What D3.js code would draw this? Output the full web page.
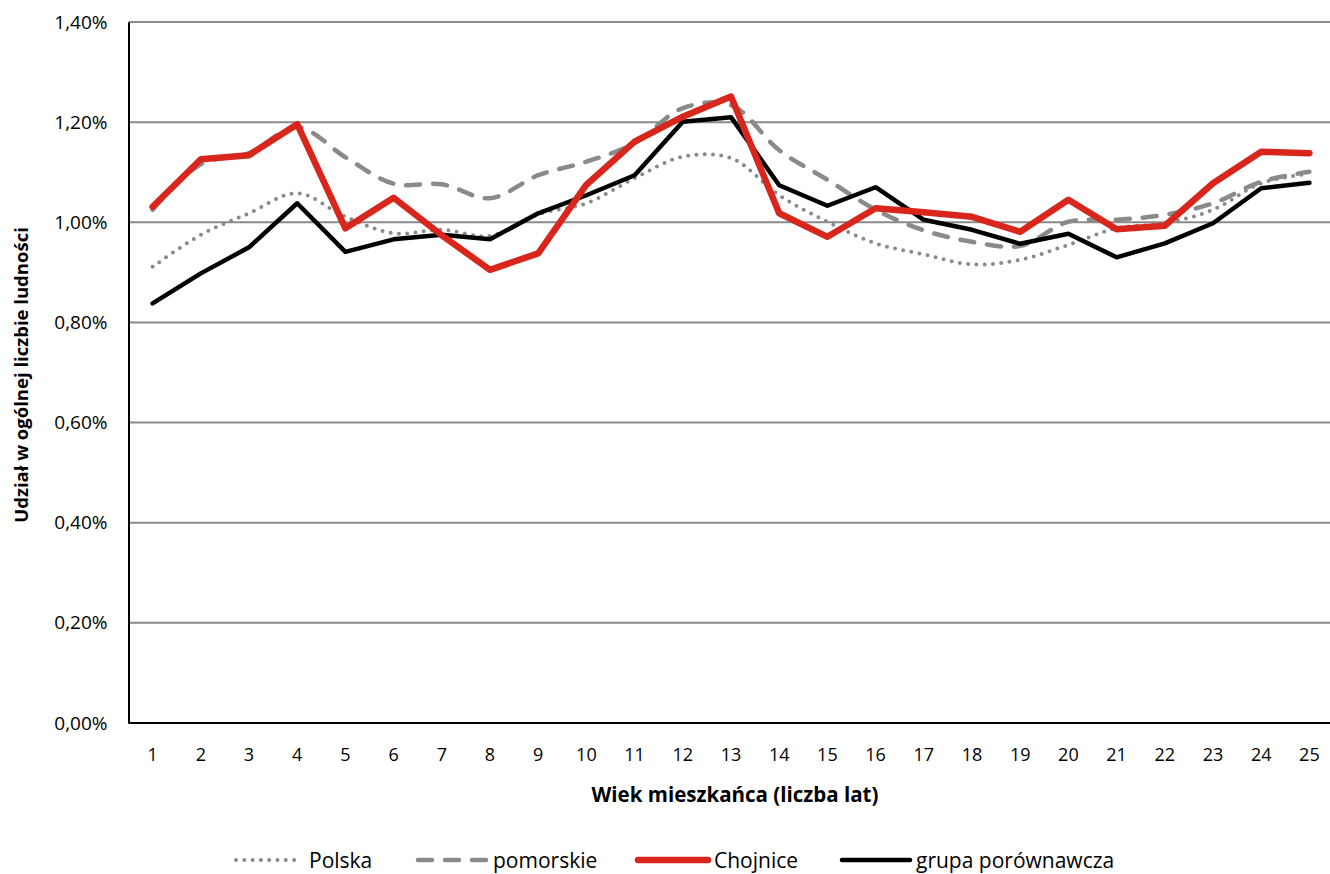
<!DOCTYPE html>
<html><head><meta charset="utf-8">
<script src="https://cdn.jsdelivr.net/npm/d3@7"></script>
<style>body{margin:0;background:#fff}svg{display:block}</style>
</head><body>
<script>
const ages = d3.range(1, 26).map(String);
const polska = [0.911,0.975,1.018,1.058,1.011,0.978,0.985,0.973,1.016,1.038,1.088,1.131,1.128,1.054,1.001,0.958,0.936,0.916,0.925,0.955,0.988,0.998,1.025,1.078,1.097];
const pomorskie = [1.025,1.116,1.138,1.19,1.13,1.077,1.076,1.048,1.094,1.121,1.158,1.228,1.234,1.144,1.085,1.025,0.984,0.961,0.953,1.001,1.005,1.015,1.038,1.081,1.101];
const chojnice = [1.031,1.126,1.134,1.196,0.988,1.049,0.974,0.905,0.938,1.075,1.161,1.211,1.251,1.018,0.971,1.028,1.02,1.011,0.981,1.045,0.986,0.993,1.078,1.141,1.138];
const grupa = [0.838,0.898,0.950,1.038,0.941,0.966,0.975,0.966,1.018,1.054,1.094,1.201,1.210,1.074,1.033,1.07,1.005,0.985,0.957,0.977,0.930,0.958,0.998,1.068,1.079];
const yTicks = [0,0.2,0.4,0.6,0.8,1.0,1.2,1.4];
const seriesNames = ["Polska","pomorskie","Chojnice","grupa porównawcza"];

const W = 1330, H = 874;
const m = {left:128.5, top:22, right:1333.5, bottom:723};
const svg = d3.select("body").append("svg").attr("width",W).attr("height",H);
const font = "'Open Sans', sans-serif";

const x = d3.scaleBand().domain(ages).range([m.left, m.right]);
const y = d3.scaleLinear().domain([0,1.4]).range([m.bottom, m.top]);

// gridlines
svg.append("g").selectAll("line").data(yTicks.filter(d=>d>0)).join("line")
  .attr("x1",m.left).attr("x2",W).attr("y1",d=>y(d)).attr("y2",d=>y(d))
  .attr("stroke","#8a8a8a").attr("stroke-width",2);

// y axis
const yAxis = svg.append("g").attr("transform",`translate(${m.left},0)`)
  .call(d3.axisLeft(y).tickValues(yTicks).tickSize(0).tickPadding(21)
    .tickFormat(d=>d3.format(".2f")(d).replace(".",",")+"%"));
yAxis.select(".domain").attr("stroke","#000").attr("stroke-width",2);
yAxis.selectAll("text").attr("font-family",font).attr("font-size",19).attr("fill","#000");

// x axis
const xAxis = svg.append("g").attr("transform",`translate(0,${m.bottom})`)
  .call(d3.axisBottom(x).tickSize(0).tickPadding(25));
xAxis.select(".domain").attr("stroke","#000").attr("stroke-width",2).attr("d",`M${m.left},0H${W}`);
xAxis.selectAll("text").attr("font-family",font).attr("font-size",18).attr("fill","#000");

// titles
svg.append("text").attr("x",735).attr("y",802).attr("text-anchor","middle")
  .attr("font-family",font).attr("font-weight","bold").attr("font-size",20.5).text("Wiek mieszkańca (liczba lat)");
svg.append("text").attr("transform",`translate(28,375) rotate(-90)`).attr("text-anchor","middle")
  .attr("font-family",font).attr("font-weight","bold").attr("font-size",18.5).text("Udział w ogólnej liczbie ludności");

const cx = d => x(d) + x.bandwidth()/2;
const styles = [
  {data:polska, color:"#8a8a8a", w:4, dash:"0 8.3", cap:"round", curve:d3.curveCatmullRom},
  {data:pomorskie, color:"#8a8a8a", w:4.5, dash:"14 13", cap:"round", curve:d3.curveCatmullRom},
  {data:chojnice, color:"#d9261c", w:6.5, dash:null, cap:"round", curve:d3.curveLinear},
  {data:grupa, color:"#000", w:4.5, dash:null, cap:"round", curve:d3.curveLinear}
];
const order = [0,1,3,2];
order.forEach(i=>{
  const s = styles[i];
  const line = d3.line().x((d,j)=>cx(ages[j])).y(d=>y(d)).curve(s.curve);
  svg.append("path").datum(s.data).attr("d",line).attr("fill","none")
    .attr("stroke",s.color).attr("stroke-width",s.w).attr("stroke-linecap",s.cap)
    .attr("stroke-linejoin","round").attr("stroke-dasharray",s.dash);
});

// legend
const leg = [
  {x1:236,x2:298,tx:309},
  {x1:418,x2:486,tx:493},
  {x1:638,x2:708,tx:714},
  {x1:842,x2:910,tx:916}
];
leg.forEach((l,i)=>{
  const s = styles[i];
  svg.append("line").attr("x1",l.x1).attr("x2",l.x2).attr("y1",860).attr("y2",860)
    .attr("stroke",s.color).attr("stroke-width",s.w).attr("stroke-linecap",s.cap).attr("stroke-dasharray",s.dash);
  svg.append("text").attr("x",l.tx).attr("y",868).attr("font-family",font).attr("font-size",21)
    .text(seriesNames[i]);
});
</script>
</body></html>
